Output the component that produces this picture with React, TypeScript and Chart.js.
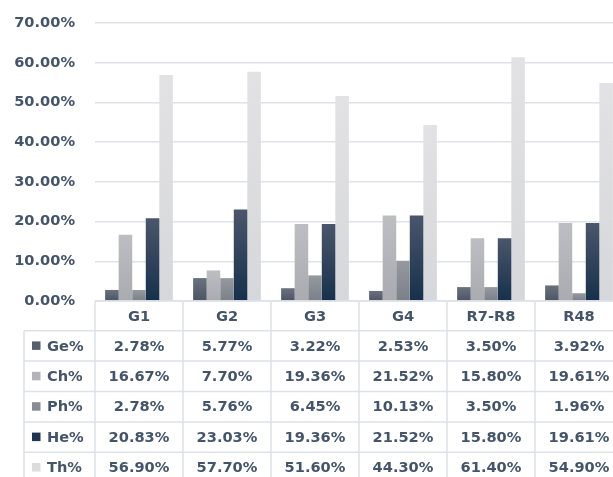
import React, { useEffect, useRef } from "react";
import { Chart, registerables } from "chart.js";

Chart.register(...registerables);

const categories = ["G1", "G2", "G3", "G4", "R7-R8", "R48"];
const seriesLabels = ["Ge%", "Ch%", "Ph%", "He%", "Th%"];
const gePct = [2.78, 5.77, 3.22, 2.53, 3.5, 3.92];
const chPct = [16.67, 7.7, 19.36, 21.52, 15.8, 19.61];
const phPct = [2.78, 5.76, 6.45, 10.13, 3.5, 1.96];
const hePct = [20.83, 23.03, 19.36, 21.52, 15.8, 19.61];
const thPct = [56.9, 57.7, 51.6, 44.3, 61.4, 54.9];
const seriesValues = [gePct, chPct, phPct, hePct, thPct];
const yMax = 70;
const yStep = 10;

// [top, bottom, legend key]
const seriesColors = [
  ["#6a717e", "#4d5565", "#575e6c"],
  ["#bcbec2", "#a9abb0", "#b2b4b8"],
  ["#959aa1", "#7b7f88", "#888c94"],
  ["#4a566b", "#17304b", "#1f3550"],
  ["#e2e2e4", "#d6d7da", "#dcdcde"],
];

const TEXT = "#44546a";
const LINE = "#dde2e9";
const FONT_SIZE = 14.6;
const FONT = `bold ${FONT_SIZE}px 'DejaVu Sans'`;

const fmt = (v: number) => v.toFixed(2) + "%";

const tablePlugin = {
  id: "dataTable",
  afterDraw(chart: any) {
    const ctx = chart.ctx;
    const area = chart.chartArea;
    const n = categories.length;
    const colW = (area.right - area.left) / n;
    const top = area.bottom;
    const headerH = 29.7;
    const rowH = 30.4;
    const leftX = 24;
    const H = chart.height;
    ctx.save();
    ctx.strokeStyle = LINE;
    ctx.lineWidth = 1.5;
    ctx.beginPath();
    ctx.moveTo(area.left, top);
    ctx.lineTo(area.right, top);
    ctx.stroke();
    for (let r = 0; r <= seriesLabels.length; r++) {
      const y = top + headerH + r * rowH;
      ctx.beginPath();
      ctx.moveTo(leftX, y);
      ctx.lineTo(area.right, y);
      ctx.stroke();
    }
    for (let i = 0; i <= n; i++) {
      const x = area.left + i * colW;
      ctx.beginPath();
      ctx.moveTo(x, top);
      ctx.lineTo(x, H);
      ctx.stroke();
    }
    ctx.beginPath();
    ctx.moveTo(leftX, top + headerH);
    ctx.lineTo(leftX, H);
    ctx.stroke();

    ctx.font = FONT;
    ctx.fillStyle = TEXT;
    ctx.textBaseline = "middle";
    ctx.textAlign = "center";
    for (let i = 0; i < n; i++) {
      const cx = area.left + (i + 0.5) * colW;
      ctx.fillText(categories[i], cx, top + headerH / 2 + 1);
    }
    for (let r = 0; r < seriesLabels.length; r++) {
      const cy = top + headerH + (r + 0.5) * rowH;
      ctx.fillStyle = seriesColors[r][2];
      ctx.fillRect(32, cy - 4.5, 8.5, 8.5);
      ctx.fillStyle = TEXT;
      ctx.textAlign = "left";
      ctx.fillText(seriesLabels[r], 47, cy + 1);
      ctx.textAlign = "center";
      for (let i = 0; i < n; i++) {
        const cx = area.left + (i + 0.5) * colW;
        ctx.fillText(fmt(seriesValues[r][i]), cx, cy + 1);
      }
    }
    ctx.restore();
  },
};

export default function App() {
  const ref = useRef<HTMLCanvasElement | null>(null);
  useEffect(() => {
    if (!ref.current) return;
    const makeBg = (si: number) => (c: any) => {
      const chart = c.chart;
      const y = chart.scales && chart.scales.y;
      const v = c.parsed ? c.parsed.y : null;
      if (!y || v == null || !chart.chartArea) return seriesColors[si][2];
      const yt = y.getPixelForValue(v);
      const yb = y.getPixelForValue(0);
      if (!isFinite(yt) || !isFinite(yb) || yb - yt < 1) return seriesColors[si][2];
      const g = chart.ctx.createLinearGradient(0, yt, 0, yb);
      g.addColorStop(0, seriesColors[si][0]);
      g.addColorStop(1, seriesColors[si][1]);
      return g;
    };
    const chart = new Chart(ref.current, {
      type: "bar",
      data: {
        labels: categories,
        datasets: seriesValues.map((vals, si) => ({
          label: seriesLabels[si],
          data: vals,
          backgroundColor: makeBg(si),
          borderWidth: 0,
          barPercentage: 1,
          categoryPercentage: 0.77,
        })),
      },
      options: {
        animation: false,
        responsive: false,
        devicePixelRatio: 1,
        layout: {
          autoPadding: false,
          padding: { top: 23, left: 0, right: 2, bottom: 176 },
        },
        plugins: {
          legend: { display: false },
          tooltip: { enabled: false },
        },
        scales: {
          x: { display: false },
          y: {
            min: 0,
            max: yMax,
            border: { display: false },
            grid: { color: LINE, lineWidth: 1.5, drawTicks: false },
            ticks: {
              stepSize: yStep,
              padding: 20,
              color: TEXT,
              font: { family: "'DejaVu Sans'", size: FONT_SIZE, weight: "bold" },
              callback: (v: any) => fmt(Number(v)),
            },
            afterFit: (s: any) => {
              s.width = 95;
              s.paddingTop = 0;
              s.paddingBottom = 0;
            },
          },
        },
      },
      plugins: [tablePlugin],
    });
    return () => chart.destroy();
  }, []);
  return (
    <div
      style={{
        position: "absolute",
        left: 0,
        top: 0,
        width: 613,
        height: 477,
        overflow: "hidden",
        background: "#fff",
      }}
    >
      <canvas ref={ref} width={625} height={477} style={{ display: "block" }} />
    </div>
  );
}
